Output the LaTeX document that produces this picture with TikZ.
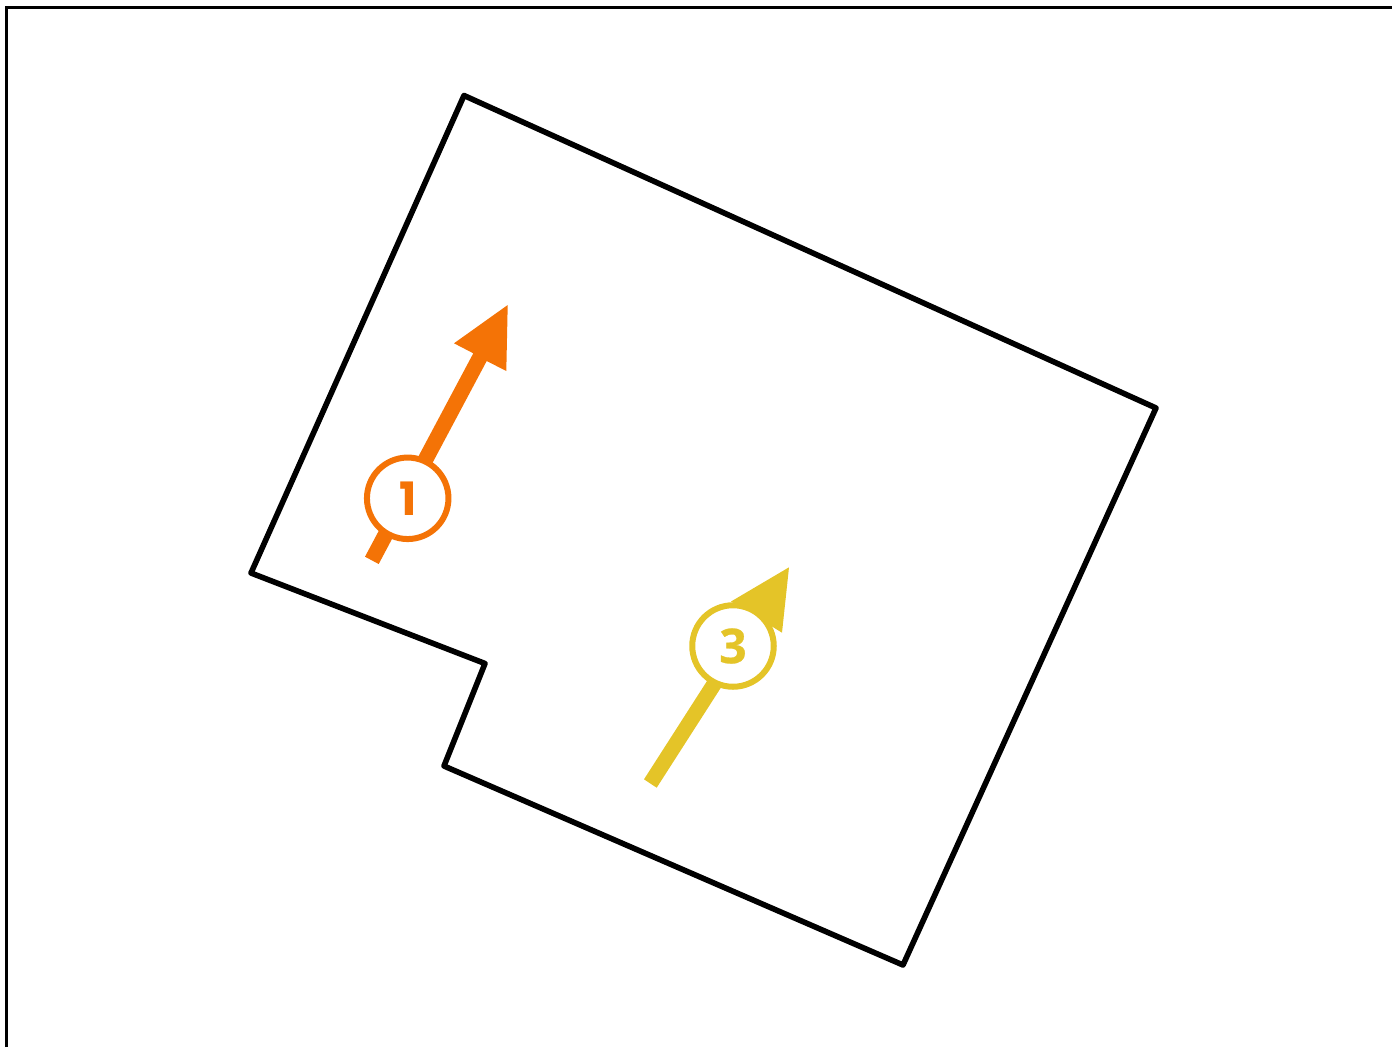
\documentclass[tikz,border=0pt]{standalone}
\usepackage{fontspec}
\setmainfont{Poppins}
\newfontfamily\roundthree[FakeBold=0.6]{Open Sans}
\definecolor{orangeA}{HTML}{F47306}
\definecolor{yellowA}{HTML}{E4C428}
\tikzset{
  outline/.style={draw=black,line width=5.6pt,line join=round},
  framing/.style={draw=black,line width=3pt},
  badge/.style={circle,fill=white,line width=6pt,minimum size=81.5pt,inner sep=0pt,font=\fontsize{46}{46}\selectfont\bfseries},
}
\begin{document}
\begin{tikzpicture}[x=1pt,y=-1pt]
\useasboundingbox (0,0) rectangle (1392,1047);
\draw[framing] (6.5,1047) -- (6.5,7) -- (1392,7);
\draw[outline] (464,95.5) -- (1156,408) -- (903,965) -- (444,766) -- (485,663.5) -- (251,573) -- cycle;
\fill[orangeA] (365,556.7) -- (473.3,353.3) -- (454,343.3) -- (507.7,305) -- (506.3,371) -- (486.7,361) -- (378.7,564) -- cycle;
\fill[yellowA] (644,779.3) -- (716,667) -- (729,675) -- (656.7,787.7) -- cycle;
\fill[yellowA] (731,601.5) -- (789,567.3) -- (782,632.7) -- (772,626.5) -- cycle;
\node[badge,draw=orangeA,text=orangeA] (one) at (407.7,498.3) {\raisebox{-1pt}{1}};
\node[badge,draw=yellowA,text=yellowA] (three) at (733,646) {\raisebox{-2pt}{\fontsize{48}{48}\selectfont\roundthree 3}};
\end{tikzpicture}
\end{document}
